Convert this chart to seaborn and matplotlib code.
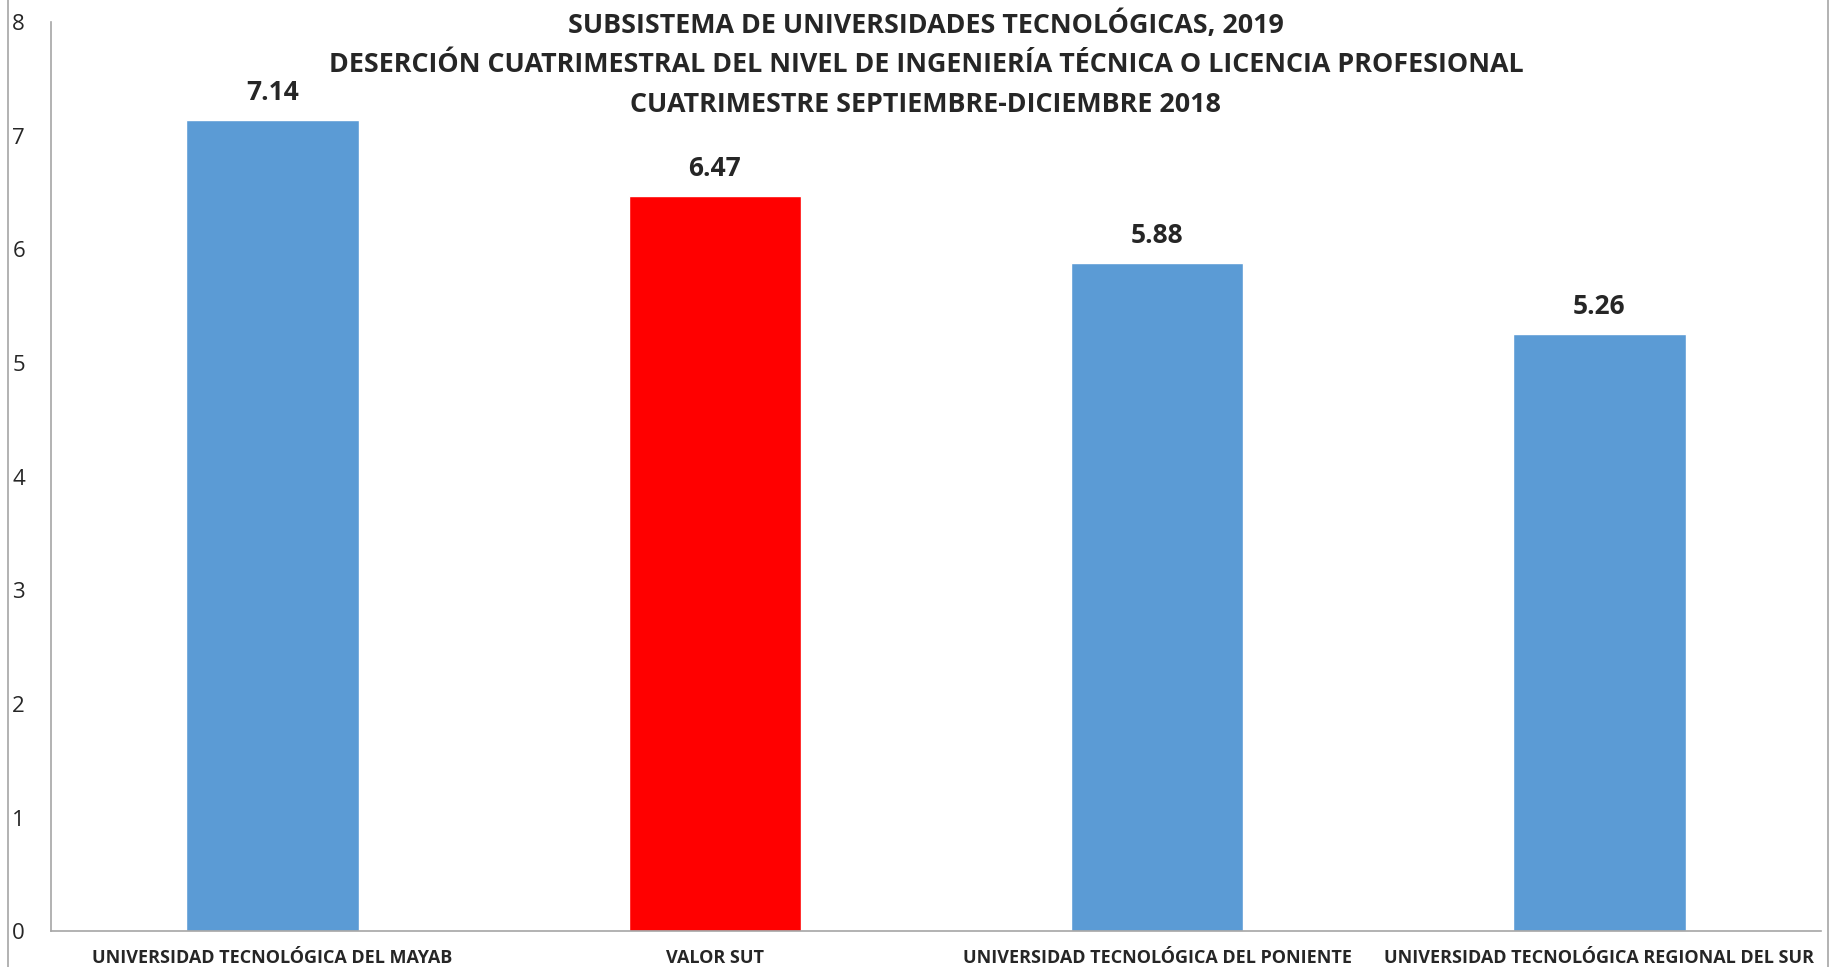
import pandas as pd
import matplotlib.pyplot as plt
import seaborn as sns
from matplotlib.lines import Line2D

# datos
universidades = [
    "UNIVERSIDAD TECNOLÓGICA DEL MAYAB",
    "VALOR SUT",
    "UNIVERSIDAD TECNOLÓGICA DEL PONIENTE",
    "UNIVERSIDAD TECNOLÓGICA REGIONAL DEL SUR",
]
desercion = [7.14, 6.47, 5.88, 5.26]
colores = ["#5B9BD5", "#FF0000", "#5B9BD5", "#5B9BD5"]
titulo = [
    "SUBSISTEMA DE UNIVERSIDADES TECNOLÓGICAS, 2019",
    "DESERCIÓN CUATRIMESTRAL DEL NIVEL DE INGENIERÍA TÉCNICA O LICENCIA PROFESIONAL",
    "CUATRIMESTRE SEPTIEMBRE-DICIEMBRE 2018",
]

df = pd.DataFrame({"universidad": universidades, "valor": desercion})

sns.set_theme(style="white")
plt.rcParams["font.family"] = ["Open Sans", "DejaVu Sans"]

fig = plt.figure(figsize=(18.39, 9.67), dpi=100)
ax = fig.add_axes([0.028, 0.037, 0.962, 0.940])

sns.barplot(data=df, x="universidad", y="valor", hue="universidad",
            palette=colores, width=0.39, legend=False, ax=ax, saturation=1)

ax.set_ylim(0, 8)
ax.set_yticks(range(0, 9))
ax.set_xlabel("")
ax.set_ylabel("")
ax.tick_params(axis="y", length=0, labelsize=16, pad=19)
ax.tick_params(axis="x", length=0, labelsize=13, pad=13)
plt.setp(ax.get_xticklabels(), fontweight="bold")
for s in ["top", "right"]:
    ax.spines[s].set_visible(False)
for s in ["left", "bottom"]:
    ax.spines[s].set_color("#A6A6A6")
    ax.spines[s].set_linewidth(1.2)

# etiquetas de valor
for i, v in enumerate(desercion):
    ax.annotate(f"{v:.2f}", (i, v), xytext=(0, 10), textcoords="offset points",
                ha="center", va="bottom", fontsize=19, fontweight="bold")

# titulo
for k, t in enumerate(titulo):
    fig.text(0.5035, 1 - (25 + 40 * k) / 967, t, ha="center", va="center",
             fontsize=19.4, fontweight="bold")

# bordes del area
fig.add_artist(Line2D([8 / 1839, 8 / 1839], [0, 1], color="#A6A6A6", lw=1.2))
fig.add_artist(Line2D([1828 / 1839, 1828 / 1839], [0, 1], color="#A6A6A6", lw=1.2))

plt.savefig("out.png", dpi=100)
